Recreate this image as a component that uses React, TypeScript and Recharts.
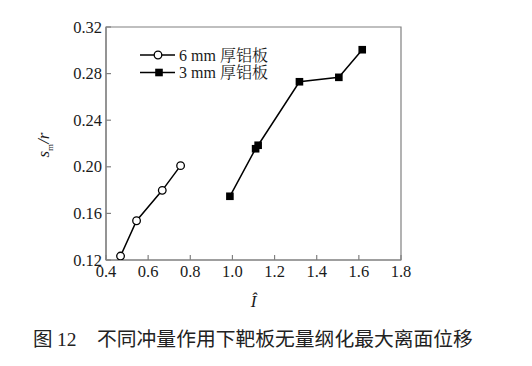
import React from 'react';
import { LineChart, Line, XAxis, YAxis, ReferenceArea, Legend } from 'recharts';

const xTicks = [0.4, 0.6, 0.8, 1.0, 1.2, 1.4, 1.6, 1.8];
const yTicks = [0.12, 0.16, 0.2, 0.24, 0.28, 0.32];

const impulse6 = [0.469, 0.545, 0.667, 0.754];
const disp6 = [0.1234, 0.1537, 0.1798, 0.201];
const impulse3 = [0.988, 1.11, 1.122, 1.318, 1.505, 1.616];
const disp3 = [0.1747, 0.2155, 0.2185, 0.273, 0.2768, 0.3005];

const series6Name = '6 mm 厚铝板';
const series3Name = '3 mm 厚铝板';
const figureNo = '12';
const figureLabel = '图 ';
const caption = '不同冲量作用下靶板无量纲化最大离面位移';

const data6 = impulse6.map((x, i) => ({ x, y: disp6[i] }));
const data3 = impulse3.map((x, i) => ({ x, y: disp3[i] }));

const SERIF = 'Liberation Serif, Tinos, Times New Roman, DejaVu Serif, serif';
const SERIF_CJK = 'Liberation Serif, Noto Serif CJK SC, Noto Sans CJK SC, serif';
const AXIS = '#808080';
const TXT = '#1a1a1a';

const XTick = (props: any) => {
  const { x, y, payload } = props;
  return (
    <g>
      <line x1={x} y1={y} x2={x} y2={y - 5} stroke={AXIS} strokeWidth={1.2} />
      <text x={x} y={y + 16.5} textAnchor="middle" style={{ fontFamily: SERIF, fontSize: 16.5 }} fill={TXT}>
        {Number(payload.value).toFixed(1)}
      </text>
    </g>
  );
};

const YTick = (props: any) => {
  const { x, y, payload } = props;
  return (
    <g>
      <line x1={x} y1={y} x2={x + 5} y2={y} stroke={AXIS} strokeWidth={1.2} />
      <text x={x - 4} y={y + 5.5} textAnchor="end" style={{ fontFamily: SERIF, fontSize: 16.5 }} fill={TXT}>
        {Number(payload.value).toFixed(2)}
      </text>
    </g>
  );
};

const CircleDot = (props: any) => {
  const { cx, cy } = props;
  return <circle cx={cx} cy={cy} r={3.8} fill="#fff" stroke="#000" strokeWidth={1.3} />;
};

const SquareDot = (props: any) => {
  const { cx, cy } = props;
  return <rect x={cx - 3.8} y={cy - 3.8} width={7.6} height={7.6} fill="#000" />;
};

const LegendContent = () => (
  <svg width={150} height={40} style={{ display: 'block', overflow: 'visible' }}>
    <line x1={5} y1={11} x2={40} y2={11} stroke="#000" strokeWidth={1.5} />
    <circle cx={23} cy={11} r={3.8} fill="#fff" stroke="#000" strokeWidth={1.3} />
    <text x={44} y={16.5} style={{ fontFamily: SERIF_CJK, fontSize: 16 }} fill={TXT}>{series6Name}</text>
    <line x1={5} y1={28.5} x2={40} y2={28.5} stroke="#000" strokeWidth={1.5} />
    <rect x={20.2} y={24.7} width={7.6} height={7.6} fill="#000" />
    <text x={44} y={34} style={{ fontFamily: SERIF_CJK, fontSize: 16 }} fill={TXT}>{series3Name}</text>
  </svg>
);

const YLabel = (props: any) => {
  const { viewBox } = props;
  const cx = viewBox.x + 3;
  const cy = viewBox.y + 118;
  return (
    <text
      x={cx}
      y={cy}
      transform={`rotate(-90, ${cx}, ${cy})`}
      textAnchor="middle"
      style={{ fontFamily: SERIF, fontSize: 17, fontStyle: 'italic' }}
      fill={TXT}
    >
      <tspan>s</tspan>
      <tspan style={{ fontSize: 9, fontStyle: 'normal' }} dy={4}>m</tspan>
      <tspan dy={-4}>/r</tspan>
    </text>
  );
};

const XLabel = (props: any) => {
  const { viewBox } = props;
  const cx = viewBox.x + viewBox.width / 2;
  return (
    <text x={cx} y={viewBox.y + 47} textAnchor="middle" style={{ fontFamily: SERIF, fontSize: 17, fontStyle: 'italic' }} fill={TXT}>
      Î
    </text>
  );
};

export default function App() {
  return (
    <div style={{ position: 'absolute', left: 0, top: 0, width: 532, height: 366, background: '#fff' }}>
      <LineChart width={532} height={366} margin={{ top: 27, right: 131, bottom: 76, left: 46 }}>
        <ReferenceArea x1={0.4} x2={1.8} y1={0.12} y2={0.32} fill="none" stroke={AXIS} strokeWidth={1.2} ifOverflow="visible" />
        <XAxis
          dataKey="x"
          type="number"
          domain={[0.4, 1.8]}
          ticks={xTicks}
          interval={0}
          tickSize={0}
          tickMargin={0}
          tick={<XTick />}
          axisLine={{ stroke: AXIS, strokeWidth: 1.2 }}
          height={30}
          label={<XLabel />}
          allowDataOverflow
        />
        <YAxis
          dataKey="y"
          type="number"
          domain={[0.12, 0.32]}
          ticks={yTicks}
          interval={0}
          tickSize={0}
          tickMargin={0}
          tick={<YTick />}
          axisLine={{ stroke: AXIS, strokeWidth: 1.2 }}
          width={60}
          label={<YLabel />}
          allowDataOverflow
        />
        <Legend
          layout="vertical"
          align="center"
          verticalAlign="middle"
          content={<LegendContent />}
          wrapperStyle={{ position: 'absolute', left: 135, top: 44, width: 150, height: 40 }}
        />
        <Line data={data6} dataKey="y" name={series6Name} stroke="#000" strokeWidth={1.5} dot={<CircleDot />} isAnimationActive={false} />
        <Line data={data3} dataKey="y" name={series3Name} stroke="#000" strokeWidth={1.5} dot={<SquareDot />} isAnimationActive={false} />
      </LineChart>
      <div
        style={{
          position: 'absolute',
          left: 33,
          top: 326,
          fontSize: 19.5,
          color: '#222',
          whiteSpace: 'pre',
          lineHeight: '24px',
        }}
      >
        <span style={{ fontFamily: 'Noto Sans CJK SC, sans-serif' }}>{figureLabel}</span>
        <span style={{ fontFamily: SERIF }}>{figureNo}</span>
      </div>
      <div
        style={{
          position: 'absolute',
          left: 97,
          top: 326,
          fontFamily: 'Noto Sans CJK SC, sans-serif',
          fontSize: 19.8,
          color: '#222',
          whiteSpace: 'pre',
          lineHeight: '24px',
        }}
      >
        {caption}
      </div>
    </div>
  );
}
